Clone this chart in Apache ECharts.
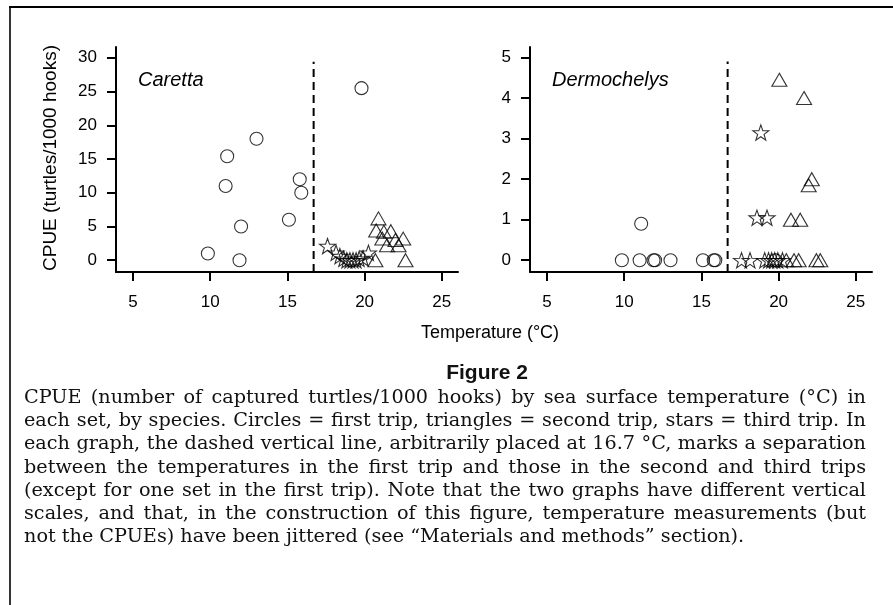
<!DOCTYPE html>
<html>
<head>
<meta charset="utf-8">
<script src="https://cdn.jsdelivr.net/npm/echarts@6/dist/echarts.min.js"></script>
<style>
html,body{margin:0;padding:0;background:#fff;}
#chart{width:893px;height:605px;}
</style>
</head>
<body>
<div id="chart"></div>
<script>
// ---------- data ----------
const xTicks = [5, 10, 15, 20, 25];
const carettaYTicks = [0, 5, 10, 15, 20, 25, 30];
const dermoYTicks = [0, 1, 2, 3, 4, 5];

// Caretta: [temperature, CPUE]
const carettaTrip1 = [[9.85,1.0],[11.0,11.0],[11.1,15.4],[11.9,0],[12.0,5.0],[13.0,18.0],[15.1,6.0],[15.8,12.0],[15.9,10.0],[19.8,25.5]];
const carettaTrip2 = [[20.7,0],[20.75,4.4],[20.9,6.2],[21.15,3.2],[21.25,4.2],[21.45,2.2],[21.7,4.3],[22.0,3.0],[22.2,2.2],[22.5,3.2],[22.65,0]];
const carettaTrip3 = [[17.6,2.1],[18.15,1.1],[18.4,0.6],[18.65,0.2],[18.85,0],[19.05,0],[19.25,0],[19.45,0],[19.65,0.2],[19.9,0.3],[20.25,1.1]];

// Dermochelys: [temperature, CPUE]
const dermoTrip1 = [[9.85,0],[11.0,0],[11.1,0.9],[11.9,0],[12.0,0],[13.0,0],[15.1,0],[15.8,0],[15.9,0],[19.8,0]];
const dermoTrip2 = [[20.05,4.45],[21.65,4.0],[22.15,2.0],[21.95,1.85],[20.8,1.0],[21.4,1.0],[20.5,0],[21.0,0],[21.3,0],[22.45,0],[22.7,0]];
const dermoTrip3 = [[17.6,0],[18.15,0],[18.6,1.05],[18.85,3.15],[19.25,1.05],[19.1,0],[19.35,0],[19.55,0],[19.75,0],[19.95,0],[20.25,0]];

const dividerTemp = 16.7;
const dividerTopCaretta = 29.4;
const dividerTopDermo = 4.9;

const speciesNames = ['Caretta', 'Dermochelys'];
const xAxisTitle = 'Temperature (°C)';
const yAxisTitle = 'CPUE (turtles/1000 hooks)';
const figureTitle = 'Figure 2';
const captionLines = [
  'CPUE (number of captured turtles/1000 hooks) by sea surface temperature (°C) in',
  'each set, by species. Circles = first trip, triangles = second trip, stars = third trip. In',
  'each graph, the dashed vertical line, arbitrarily placed at 16.7 °C, marks a separation',
  'between the temperatures in the first trip and those in the second and third trips',
  '(except for one set in the first trip). Note that the two graphs have different vertical',
  'scales, and that, in the construction of this figure, temperature measurements (but',
  'not the CPUEs) have been jittered (see “Materials and methods” section).'
];

// ---------- styles ----------
const SANS = '"Liberation Sans", Arial, Helvetica, sans-serif';
const SERIF = '"DejaVu Serif", serif';

function starPath() {
  let d = '';
  for (let i = 0; i < 10; i++) {
    const a = -Math.PI / 2 + i * Math.PI / 5;
    const r = (i % 2 === 0) ? 50 : 20;
    const x = 50 + r * Math.cos(a), y = 50 + r * Math.sin(a);
    d += (i === 0 ? 'M' : 'L') + x.toFixed(2) + ',' + y.toFixed(2);
  }
  return 'path://' + d + 'Z';
}
const STAR = starPath();

const hollow = { color: 'rgba(0,0,0,0)', borderColor: '#000', borderWidth: 1.1 };

function scatter(data, idx, symbol, size) {
  return {
    type: 'scatter', xAxisIndex: idx, yAxisIndex: idx, data: data,
    symbol: symbol, symbolSize: size, symbolKeepAspect: true,
    itemStyle: hollow, silent: true, emphasis: { disabled: true }
  };
}
function divider(idx, ymin, ytop) {
  return {
    type: 'line', xAxisIndex: idx, yAxisIndex: idx,
    data: [[dividerTemp, ymin], [dividerTemp, ytop]],
    symbol: 'none', silent: true,
    lineStyle: { color: '#000', width: 2, type: [8, 5] }
  };
}

const axisCommon = {
  axisLine: { onZero: false, lineStyle: { color: '#000', width: 2 } },
  axisTick: { length: 9, lineStyle: { color: '#000', width: 2 } },
  splitLine: { show: false }
};

function xAx(idx) {
  return Object.assign({}, axisCommon, {
    type: 'value', gridIndex: idx, min: 3.9, max: 26.05,
    axisTick: Object.assign({}, axisCommon.axisTick, { customValues: xTicks }),
    axisLabel: { customValues: xTicks, color: '#000', fontSize: 17, fontFamily: SANS, margin: 22 }
  });
}
function yAx(idx, min, max, ticks) {
  return Object.assign({}, axisCommon, {
    type: 'value', gridIndex: idx, min: min, max: max,
    axisTick: Object.assign({}, axisCommon.axisTick, { customValues: ticks }),
    axisLabel: { customValues: ticks, color: '#000', fontSize: 17, fontFamily: SANS, margin: 19 }
  });
}

// ---------- caption (justified) ----------
const CAP_X0 = 24, CAP_W = 842, CAP_Y0 = 398, CAP_DY = 23.2;
const mctx = document.createElement('canvas').getContext('2d');
function mw(t, s) { mctx.font = s + 'px ' + SERIF; return mctx.measureText(t).width; }
let maxW1 = 0;
captionLines.forEach(l => { maxW1 = Math.max(maxW1, mw(l, 100) / 100); });
const capSize = Math.min(20, CAP_W * 0.995 / maxW1);

const graphics = [];
captionLines.forEach((line, li) => {
  const y = CAP_Y0 + li * CAP_DY;
  const words = line.split(' ');
  const last = li === captionLines.length - 1;
  const widths = words.map(w => mw(w, capSize));
  const sum = widths.reduce((a, b) => a + b, 0);
  const gap = last ? mw(' ', capSize) : (CAP_W - sum) / (words.length - 1);
  let x = CAP_X0;
  words.forEach((w, wi) => {
    graphics.push({ type: 'text', x: x, y: y, silent: true,
      style: { text: w, fill: '#111', font: capSize.toFixed(2) + 'px ' + SERIF, textAlign: 'left', textVerticalAlign: 'middle' } });
    x += widths[wi] + gap;
  });
});

// frame
graphics.push({ type: 'line', silent: true, shape: { x1: 9, y1: 7, x2: 893, y2: 7 }, style: { stroke: '#000', lineWidth: 2.2 } });
graphics.push({ type: 'line', silent: true, shape: { x1: 10, y1: 6, x2: 10, y2: 605 }, style: { stroke: '#000', lineWidth: 1.6 } });
// titles
graphics.push({ type: 'text', silent: true, x: 138, y: 80, style: { text: speciesNames[0], fill: '#000', font: 'italic 20px ' + SANS, textAlign: 'left', textVerticalAlign: 'middle' } });
graphics.push({ type: 'text', silent: true, x: 552, y: 80, style: { text: speciesNames[1], fill: '#000', font: 'italic 20px ' + SANS, textAlign: 'left', textVerticalAlign: 'middle' } });
graphics.push({ type: 'text', silent: true, x: 51, y: 158, rotation: Math.PI / 2, style: { text: yAxisTitle, fill: '#000', font: '19px ' + SANS, textAlign: 'center', textVerticalAlign: 'middle' } });
graphics.push({ type: 'text', silent: true, x: 490, y: 333, style: { text: xAxisTitle, fill: '#000', font: '18px ' + SANS, textAlign: 'center', textVerticalAlign: 'middle' } });
graphics.push({ type: 'text', silent: true, x: 487, y: 373, style: { text: figureTitle, fill: '#111', font: 'bold 21px ' + SANS, textAlign: 'center', textVerticalAlign: 'middle' } });

const option = {
  animation: false,
  backgroundColor: '#fff',
  grid: [
    { left: 116, top: 47, width: 342, height: 225 },
    { left: 530, top: 47, width: 342, height: 225 }
  ],
  xAxis: [xAx(0), xAx(1)],
  yAxis: [yAx(0, -1.75, 31.6, carettaYTicks), yAx(1, -0.29, 5.26, dermoYTicks)],
  series: [
    divider(0, -1.75, dividerTopCaretta),
    divider(1, -0.29, dividerTopDermo),
    scatter(carettaTrip1, 0, 'circle', 13),
    scatter(carettaTrip2, 0, 'triangle', [15, 13]),
    scatter(carettaTrip3, 0, STAR, 16),
    scatter(dermoTrip1, 1, 'circle', 13),
    scatter(dermoTrip2, 1, 'triangle', [15, 13]),
    scatter(dermoTrip3, 1, STAR, 16)
  ],
  graphic: graphics
};

const chart = echarts.init(document.getElementById('chart'), null, { renderer: 'canvas' });
chart.setOption(option);
</script>
</body>
</html>
